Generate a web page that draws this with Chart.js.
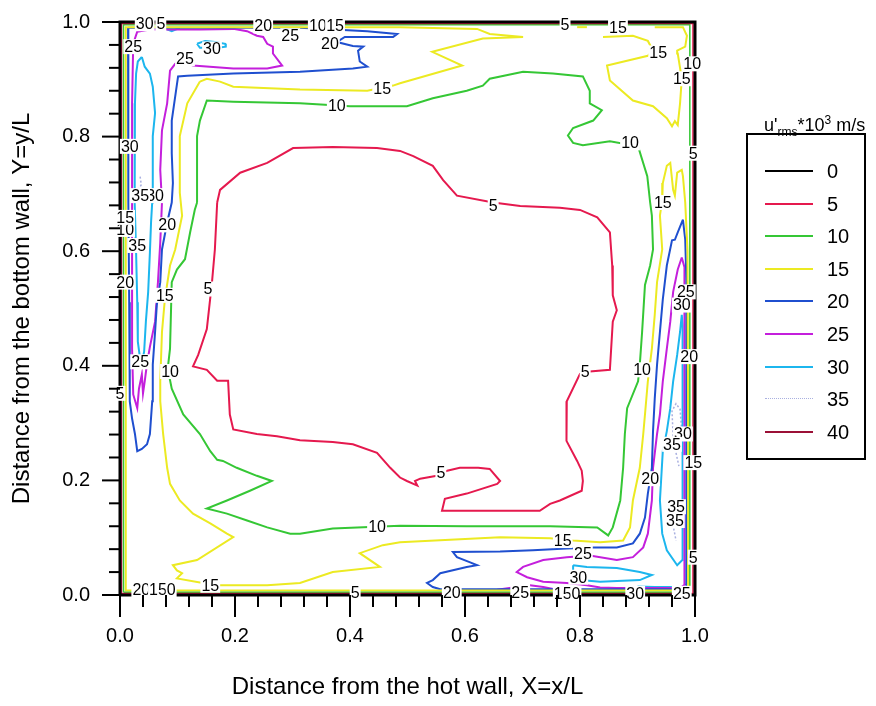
<!DOCTYPE html>
<html>
<head>
<meta charset="utf-8">
<title>u'rms contours</title>
<script src="https://cdn.jsdelivr.net/npm/chart.js@4.4.0/dist/chart.umd.min.js"></script>
<style>
  html, body { margin: 0; padding: 0; background: #fff; }
  #wrap { position: relative; width: 876px; height: 706px; font-family: "Liberation Sans", Arial, sans-serif; color: #000; }
  #plot { position: absolute; left: 0; top: 0; }
  #legend-title { position: absolute; left: 764px; top: 113px; font-size: 18px; white-space: nowrap; }
  #legend-title sub { font-size: 12px; }
  #legend-title sup { font-size: 12px; }
  #legend { position: absolute; left: 746px; top: 133px; width: 120px; height: 327px; border: 2px solid #000; box-sizing: border-box; }
  .entry { position: absolute; left: 0; width: 100%; height: 22px; }
  .swatch { position: absolute; left: 17px; top: 10px; width: 48px; height: 0; border-top-width: 2px; border-top-style: solid; }
  .entry span { position: absolute; left: 79px; top: 0; font-size: 20px; line-height: 22px; }
</style>
</head>
<body>
<div id="wrap">
  <canvas id="plot" width="876" height="706"></canvas>
  <div id="legend-title">u'<sub>rms</sub>*10<sup>3</sup> m/s</div>
  <div id="legend"></div>
</div>
<script>
const FONT = '"Liberation Sans", Arial, sans-serif';

// contour levels (u'rms * 10^3, m/s)
const levels = [0, 5, 10, 15, 20, 25, 30, 35, 40];
const levelColors = ['#000000', '#e5194e', '#35c735', '#ecea22', '#1f4fcf', '#c41fdc', '#1cb6ee', '#a9b0e0', '#9b1036'];

// contour polylines, [X, Y] in x/L, y/L
const wall0 = [[0, 0], [1, 0], [1, 1], [0, 1], [0, 0]];
const wall5 = [[0.0025, 0.0025], [0.9965, 0.0025], [0.9965, 0.9975], [0.0025, 0.9975], [0.0025, 0.0025]];
const core5 = [[0.169,0.685],[0.174,0.707],[0.209,0.737],[0.256,0.754],[0.301,0.780],[0.370,0.782],[0.447,0.780],[0.487,0.775],[0.510,0.766],[0.544,0.749],[0.562,0.724],[0.586,0.697],[0.649,0.685],[0.696,0.679],[0.765,0.676],[0.800,0.672],[0.830,0.659],[0.852,0.633],[0.856,0.575],[0.857,0.523],[0.864,0.497],[0.857,0.477],[0.852,0.393],[0.817,0.390],[0.800,0.386],[0.777,0.338],[0.776,0.315],[0.777,0.269],[0.795,0.234],[0.803,0.217],[0.805,0.199],[0.803,0.182],[0.765,0.165],[0.748,0.159],[0.730,0.147],[0.560,0.147],[0.565,0.168],[0.603,0.177],[0.656,0.194],[0.661,0.199],[0.643,0.220],[0.623,0.222],[0.591,0.222],[0.569,0.217],[0.551,0.208],[0.522,0.203],[0.513,0.199],[0.517,0.191],[0.499,0.199],[0.487,0.205],[0.470,0.222],[0.447,0.248],[0.405,0.263],[0.370,0.267],[0.313,0.270],[0.273,0.277],[0.238,0.281],[0.197,0.289],[0.191,0.315],[0.188,0.374],[0.169,0.374],[0.151,0.393],[0.127,0.399],[0.136,0.419],[0.151,0.464],[0.160,0.546],[0.165,0.603],[0.169,0.685]];

const wall10 = [[0.006, 0.005], [0.991, 0.005], [0.991, 0.995], [0.006, 0.995], [0.006, 0.005]];
const core10 = [[0.134,0.685],[0.134,0.801],[0.139,0.828],[0.151,0.863],[0.197,0.861],[0.313,0.858],[0.400,0.853],[0.499,0.853],[0.544,0.867],[0.603,0.880],[0.631,0.889],[0.643,0.901],[0.701,0.913],[0.753,0.910],[0.805,0.905],[0.817,0.880],[0.817,0.858],[0.838,0.846],[0.823,0.828],[0.788,0.815],[0.779,0.802],[0.788,0.789],[0.805,0.785],[0.852,0.792],[0.901,0.783],[0.917,0.731],[0.922,0.685],[0.925,0.662],[0.927,0.603],[0.922,0.575],[0.913,0.541],[0.908,0.459],[0.904,0.402],[0.901,0.373],[0.882,0.326],[0.878,0.281],[0.875,0.222],[0.870,0.165],[0.857,0.118],[0.849,0.104],[0.830,0.118],[0.748,0.120],[0.603,0.120],[0.487,0.121],[0.370,0.116],[0.313,0.107],[0.296,0.107],[0.256,0.118],[0.221,0.130],[0.186,0.142],[0.151,0.151],[0.186,0.165],[0.226,0.182],[0.264,0.199],[0.238,0.208],[0.203,0.222],[0.179,0.234],[0.169,0.236],[0.157,0.251],[0.139,0.281],[0.110,0.315],[0.090,0.360],[0.083,0.395],[0.087,0.430],[0.090,0.546],[0.099,0.568],[0.113,0.586],[0.122,0.633],[0.130,0.672],[0.134,0.685]];

const ring15 = [[0.139,0.896],[0.151,0.901],[0.174,0.896],[0.197,0.887],[0.313,0.882],[0.430,0.880],[0.475,0.889],[0.487,0.893],[0.595,0.924],[0.543,0.948],[0.631,0.971],[0.701,0.974],[0.643,0.979],[0.621,0.988],[0.487,0.991],[0.300,0.991],[0.010,0.991],[0.010,0.008],[0.988,0.008],[0.988,0.300],[0.987,0.600],[0.983,0.685],[0.979,0.731],[0.977,0.742],[0.969,0.737],[0.965,0.697],[0.962,0.707],[0.957,0.754],[0.951,0.749],[0.944,0.719],[0.943,0.690],[0.939,0.662],[0.943,0.603],[0.934,0.546],[0.930,0.489],[0.925,0.430],[0.918,0.373],[0.913,0.315],[0.910,0.281],[0.904,0.222],[0.892,0.165],[0.887,0.118],[0.875,0.095],[0.835,0.092],[0.788,0.095],[0.748,0.099],[0.661,0.101],[0.487,0.092],[0.457,0.087],[0.417,0.073],[0.452,0.049],[0.370,0.040],[0.313,0.021],[0.256,0.017],[0.169,0.017],[0.144,0.021],[0.099,0.029],[0.108,0.038],[0.099,0.043],[0.092,0.052],[0.134,0.061],[0.197,0.101],[0.186,0.107],[0.157,0.125],[0.127,0.142],[0.104,0.165],[0.087,0.194],[0.082,0.222],[0.075,0.281],[0.070,0.338],[0.070,0.373],[0.073,0.459],[0.078,0.516],[0.087,0.575],[0.096,0.603],[0.108,0.662],[0.104,0.702],[0.104,0.801],[0.117,0.858],[0.139,0.896]];
const corner15 = [[0.840,0.974],[0.892,0.976],[0.918,0.967],[0.927,0.950],[0.918,0.941],[0.847,0.924],[0.852,0.898],[0.892,0.863],[0.927,0.853],[0.951,0.832],[0.960,0.818],[0.965,0.827],[0.970,0.820],[0.974,0.858],[0.977,0.901],[0.970,0.945],[0.969,0.950],[0.983,0.957],[0.986,0.976],[0.979,0.991],[0.930,0.991]];
const dash15 = [[0.795,0.991],[0.812,0.991]];

const upper20 = [[0.014,0.990],[0.014,0.858],[0.015,0.685],[0.016,0.511],[0.017,0.338],[0.021,0.308],[0.026,0.281],[0.030,0.251],[0.038,0.255],[0.047,0.263],[0.052,0.281],[0.056,0.338],[0.057,0.402],[0.061,0.459],[0.064,0.506],[0.070,0.546],[0.073,0.603],[0.082,0.650],[0.090,0.685],[0.092,0.719],[0.090,0.771],[0.090,0.828],[0.101,0.905],[0.117,0.906],[0.197,0.910],[0.313,0.913],[0.405,0.919],[0.430,0.922],[0.417,0.931],[0.414,0.950],[0.423,0.957],[0.405,0.958],[0.377,0.965],[0.391,0.974],[0.475,0.974],[0.482,0.979],[0.430,0.984],[0.313,0.990],[0.139,0.990],[0.014,0.990]];
const lower20 = [[0.979,0.655],[0.970,0.633],[0.965,0.620],[0.960,0.619],[0.951,0.575],[0.944,0.516],[0.939,0.459],[0.934,0.402],[0.930,0.343],[0.927,0.286],[0.925,0.222],[0.918,0.177],[0.913,0.135],[0.904,0.107],[0.892,0.090],[0.864,0.083],[0.823,0.083],[0.777,0.081],[0.718,0.078],[0.661,0.076],[0.579,0.075],[0.586,0.066],[0.609,0.057],[0.621,0.052],[0.603,0.049],[0.557,0.038],[0.544,0.026],[0.534,0.021],[0.544,0.014],[0.557,0.010],[0.700,0.010],[0.985,0.010],[0.985,0.300],[0.985,0.550],[0.983,0.620],[0.979,0.655]];

const upper25 = [[0.117,0.987],[0.139,0.987],[0.197,0.988],[0.221,0.984],[0.238,0.976],[0.249,0.974],[0.256,0.962],[0.266,0.957],[0.266,0.945],[0.282,0.924],[0.256,0.919],[0.197,0.919],[0.127,0.924],[0.104,0.932],[0.096,0.927],[0.087,0.915],[0.082,0.858],[0.073,0.811],[0.070,0.742],[0.073,0.685],[0.070,0.615],[0.066,0.546],[0.061,0.477],[0.052,0.433],[0.047,0.404],[0.043,0.373],[0.040,0.352],[0.038,0.385],[0.033,0.360],[0.030,0.326],[0.023,0.350],[0.021,0.430],[0.021,0.511],[0.021,0.685],[0.021,0.858],[0.023,0.962],[0.030,0.983],[0.052,0.987],[0.117,0.987]];
const lower25 = [[0.977,0.589],[0.970,0.568],[0.962,0.529],[0.957,0.477],[0.951,0.430],[0.944,0.373],[0.939,0.315],[0.934,0.281],[0.927,0.222],[0.925,0.165],[0.918,0.107],[0.910,0.083],[0.892,0.066],[0.864,0.061],[0.817,0.069],[0.777,0.066],[0.736,0.061],[0.701,0.049],[0.690,0.040],[0.708,0.031],[0.736,0.023],[0.777,0.021],[0.812,0.017],[0.835,0.013],[0.864,0.012],[0.974,0.012],[0.982,0.018],[0.982,0.251],[0.982,0.511],[0.981,0.572],[0.977,0.589]];
const nub25a = [[0.656,0.009],[0.683,0.013],[0.701,0.008]];
const nub25b = [[0.713,0.017],[0.736,0.014],[0.760,0.009]];

const left30 = [[0.038,0.939],[0.031,0.931],[0.028,0.910],[0.026,0.858],[0.025,0.783],[0.026,0.685],[0.028,0.598],[0.030,0.511],[0.031,0.442],[0.035,0.412],[0.038,0.404],[0.042,0.425],[0.045,0.477],[0.049,0.529],[0.052,0.598],[0.054,0.650],[0.056,0.685],[0.057,0.742],[0.057,0.801],[0.061,0.841],[0.057,0.887],[0.052,0.910],[0.043,0.922],[0.038,0.939]];
const right30 = [[0.977,0.489],[0.974,0.459],[0.969,0.419],[0.962,0.373],[0.957,0.326],[0.951,0.286],[0.944,0.251],[0.939,0.165],[0.943,0.107],[0.951,0.078],[0.969,0.052],[0.978,0.061],[0.978,0.135],[0.978,0.200],[0.978,0.300],[0.979,0.400],[0.979,0.470],[0.977,0.489]];
const bottom30 = [[0.788,0.052],[0.812,0.049],[0.864,0.047],[0.904,0.040],[0.925,0.035],[0.904,0.026],[0.835,0.023],[0.800,0.026],[0.788,0.031],[0.788,0.052]];
const floor30 = [[0.900,0.015],[0.930,0.014],[0.975,0.014]];
const top30 = [[0.134,0.962],[0.148,0.967],[0.165,0.965],[0.183,0.962],[0.184,0.957],[0.170,0.955],[0.139,0.955],[0.134,0.962]];
const corner30 = [[0.075,0.990],[0.090,0.984],[0.104,0.990]];

const left35 = [[0.035,0.730],[0.037,0.716],[0.033,0.709]];
const right35a = [[0.962,0.277],[0.960,0.321],[0.967,0.334],[0.974,0.324],[0.977,0.286]];
const right35b = [[0.967,0.248],[0.972,0.225]];
const right35c = [[0.963,0.116],[0.967,0.095]];

const hot40 = [[0.002,0.0],[0.002,0.33]];

const contourLines = {
  0: [wall0],
  5: [wall5, core5],
  10: [wall10, core10],
  15: [ring15, corner15, dash15],
  20: [upper20, lower20],
  25: [upper25, lower25, nub25a, nub25b],
  30: [left30, right30, bottom30, floor30, top30, corner30],
  35: [left35, right35a, right35b, right35c],
  40: [hot40]
};
// lines that hug the walls are drawn a bit thinner
const wallLines = [wall5, wall10, hot40];

// inline contour labels: [text, X, Y]
const contourLabels = [
  ['5',0.649,0.679],['5',0.153,0.534],['5',0.558,0.213],['5',0.809,0.390],['5',0.409,0.005],['5',0.997,0.771],['5',0.997,0.066],['5',0.774,0.995],['5',0.0,0.352],
  ['10',0.377,0.854],['10',0.887,0.789],['10',0.908,0.393],['10',0.447,0.120],['10',0.087,0.390],['10',0.995,0.927],['10',0.344,0.993],['10',0.009,0.638],
  ['15',0.456,0.884],['15',0.936,0.946],['15',0.977,0.901],['15',0.944,0.685],['15',0.770,0.095],['15',0.157,0.017],['15',0.078,0.523],['15',0.009,0.659],['15',0.374,0.993],['15',0.866,0.991],['15',0.997,0.231],
  ['20',0.365,0.962],['20',0.082,0.646],['20',0.577,0.005],['20',0.922,0.203],['20',0.990,0.416],['20',0.009,0.546],['20',0.249,0.993],['20',0.037,0.009],
  ['25',0.023,0.957],['25',0.113,0.936],['25',0.296,0.976],['25',0.035,0.407],['25',0.984,0.529],['25',0.805,0.073],['25',0.696,0.005],['25',0.977,0.003],
  ['30',0.043,0.997],['30',0.017,0.783],['30',0.061,0.697],['30',0.160,0.953],['30',0.977,0.506],['30',0.979,0.281],['30',0.797,0.031],['30',0.896,0.003],
  ['35',0.035,0.697],['35',0.030,0.610],['35',0.960,0.263],['35',0.967,0.154],['35',0.965,0.130],
  ['5',0.071,0.997],['15',0.066,0.009],['0',0.089,0.009],['15',0.770,0.003],['0',0.793,0.003]
];

const tickStep = 0.04;

const datasets = [];
levels.forEach((lv, i) => {
  contourLines[lv].forEach(line => {
    let width = 2;
    if (lv === 0) width = 3;
    else if (lv === 35 || wallLines.includes(line)) width = 1.5;
    datasets.push({
      label: String(lv),
      data: line.map(([x, y]) => ({ x, y })),
      showLine: true,
      borderColor: levelColors[i],
      borderWidth: width,
      borderDash: lv === 35 ? [2, 2] : [],
      pointRadius: 0,
      tension: 0,
      clip: false
    });
  });
});

// little ticks along the bottom and left axes
const tickMarks = {
  id: 'tickMarks',
  afterDraw(chart) {
    const { ctx, chartArea: a, scales: { x, y } } = chart;
    ctx.save();
    ctx.strokeStyle = '#000';
    ctx.lineWidth = 2;
    for (let i = 0; i * tickStep <= 1.0001; i++) {
      const v = i * tickStep;
      const major = i % 5 === 0;
      const px = x.getPixelForValue(v);
      ctx.beginPath();
      ctx.moveTo(px, a.bottom);
      ctx.lineTo(px, a.bottom + (major ? 22 : 12));
      ctx.stroke();
      const py = y.getPixelForValue(v);
      ctx.beginPath();
      ctx.moveTo(a.left, py);
      ctx.lineTo(a.left - (major ? 18 : 11), py);
      ctx.stroke();
    }
    ctx.restore();
  }
};

// boxed value labels sitting on the contour lines
const valueLabels = {
  id: 'valueLabels',
  afterDatasetsDraw(chart) {
    const { ctx, scales: { x, y } } = chart;
    ctx.save();
    ctx.font = '16px ' + FONT;
    ctx.textAlign = 'center';
    ctx.textBaseline = 'middle';
    contourLabels.forEach(([t, vx, vy]) => {
      const px = x.getPixelForValue(vx);
      const py = y.getPixelForValue(vy);
      const w = ctx.measureText(t).width;
      ctx.fillStyle = '#fff';
      ctx.fillRect(px - w / 2 - 1, py - 7.5, w + 2, 15);
      ctx.fillStyle = '#000';
      ctx.fillText(t, px, py + 1);
    });
    ctx.restore();
  }
};

new Chart(document.getElementById('plot'), {
  type: 'scatter',
  data: { datasets },
  options: {
    responsive: false,
    animation: false,
    events: [],
    layout: { padding: { top: 18, right: 181, left: 0, bottom: 0 } },
    plugins: { legend: { display: false }, tooltip: { enabled: false } },
    scales: {
      x: {
        type: 'linear', min: 0, max: 1,
        afterFit: s => { s.height = 111; },
        border: { display: false },
        grid: { display: false, drawTicks: true, tickLength: 20 },
        ticks: { stepSize: 0.2, padding: 9, color: '#000', maxRotation: 0,
                 font: { size: 20, family: FONT }, callback: v => v.toFixed(1) },
        title: { display: true, text: 'Distance from the hot wall, X=x/L', color: '#000',
                 font: { size: 24, family: FONT }, padding: { top: 0, bottom: 4 } }
      },
      y: {
        type: 'linear', min: 0, max: 1,
        afterFit: s => { s.width = 120; },
        border: { display: false },
        grid: { display: false, drawTicks: true, tickLength: 20 },
        ticks: { stepSize: 0.2, padding: 10, color: '#000',
                 font: { size: 20, family: FONT }, callback: v => v.toFixed(1) },
        title: { display: true, text: 'Distance from the bottom wall, Y=y/L', color: '#000',
                 font: { size: 24, family: FONT }, padding: { top: 8, bottom: 0 } }
      }
    }
  },
  plugins: [valueLabels, tickMarks]
});

// legend box on the right
const legend = document.getElementById('legend');
levels.forEach((lv, i) => {
  const row = document.createElement('div');
  row.className = 'entry';
  row.style.top = (25 + i * 32.6) + 'px';
  const sw = document.createElement('div');
  sw.className = 'swatch';
  sw.style.borderTopColor = levelColors[i];
  if (lv === 35) { sw.style.borderTopStyle = 'dotted'; sw.style.borderTopWidth = '1px'; }
  const txt = document.createElement('span');
  txt.textContent = String(lv);
  row.appendChild(sw);
  row.appendChild(txt);
  legend.appendChild(row);
});
</script>
</body>
</html>
